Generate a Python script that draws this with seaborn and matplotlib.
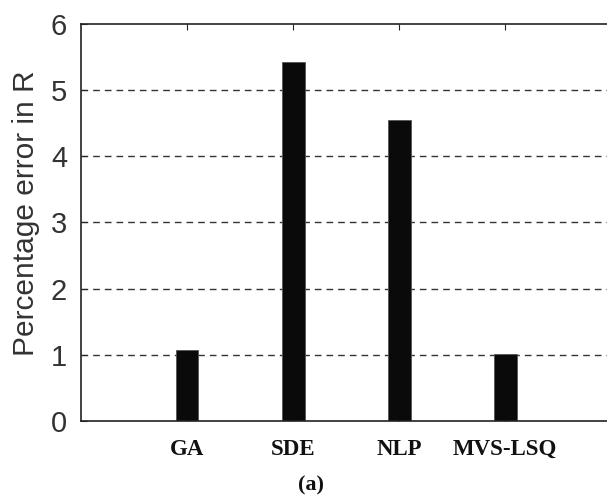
import matplotlib
matplotlib.use("Agg")
import matplotlib.pyplot as plt
import seaborn as sns
import pandas as pd

categories = ["GA", "SDE", "NLP", "MVS-LSQ"]
values = [1.08, 5.43, 4.55, 1.01]
yticks = [0, 1, 2, 3, 4, 5, 6]
ylabel = "Percentage error in R"
caption = "(a)"

sns.set_style("white")
plt.rcParams["font.family"] = ["Liberation Sans", "DejaVu Sans"]

df = pd.DataFrame({"method": categories, "error": values})

fig = plt.figure(figsize=(6.07, 4.98), dpi=100)
ax_w = 1 - 81/607 + 0.002
ax = fig.add_axes([81/607, 1-421/498, ax_w, (421-24)/498])

for y in yticks[1:-1]:
    ax.axhline(y, color="#333333", lw=1.0, ls=(0, (4.8, 3.6)), zorder=0)

sns.barplot(data=df, x="method", y="error", order=categories, color="#0a0a0a",
            width=0.215, saturation=1, edgecolor="#555555", linewidth=0.6,
            ax=ax, zorder=2)

ax.set_xlim(-1, 3.97)
ax.set_ylim(0, 6)
ax.set_yticks(yticks)
ax.set_yticklabels([str(t) for t in yticks], fontsize=21, color="#333333")
ax.set_xticks(range(len(categories)))
ax.set_xticklabels(categories, fontsize=16.5, fontweight="bold",
                   family=["Liberation Serif"], color="#111111")
ax.set_xlabel("")
ax.set_ylabel(ylabel, fontsize=21.5, color="#333333")
ax.yaxis.set_label_coords(-41 / (ax_w * 607), (421 - 213.5) / 397)

ax.tick_params(axis="y", direction="in", length=4, pad=10, left=True, right=False)
ax.tick_params(axis="x", direction="in", length=4, pad=13, top=True, bottom=True)

for s in ["left", "top", "bottom"]:
    ax.spines[s].set_visible(True)
    ax.spines[s].set_color("#222222")
    ax.spines[s].set_linewidth(1.2)
ax.spines["right"].set_visible(False)

fig.text(311/607, 1-485/498, caption, ha="center", va="center", fontsize=16,
         fontweight="bold", family=["Liberation Serif"], color="#111111")

fig.savefig("out.png", dpi=100)
